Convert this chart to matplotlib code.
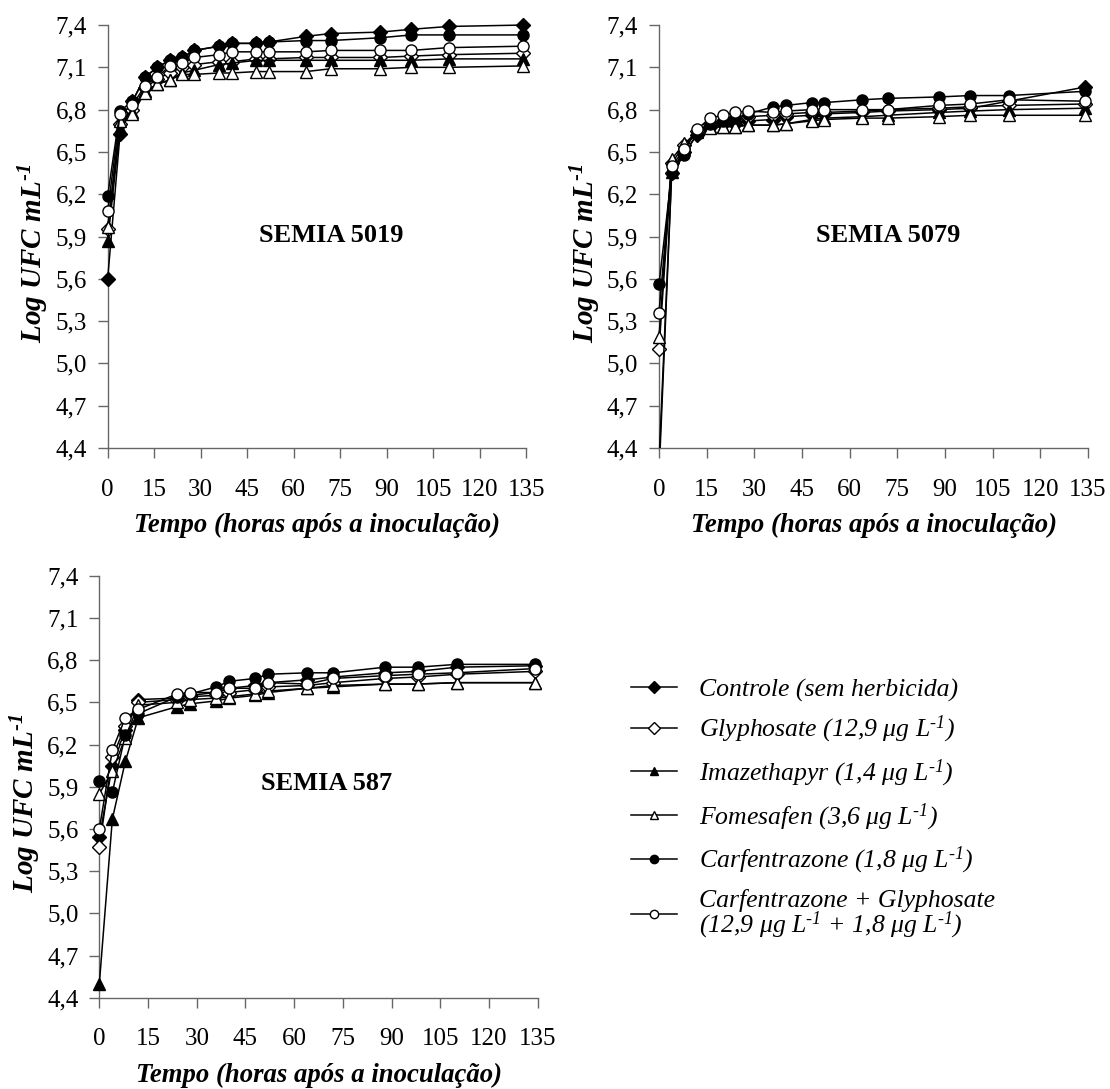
import matplotlib
matplotlib.use('Agg')
import matplotlib.pyplot as plt
from matplotlib.patches import Rectangle
from matplotlib.ticker import FixedLocator, FuncFormatter

plt.rcParams['font.family'] = 'Liberation Serif'
plt.rcParams['mathtext.fontset'] = 'custom'
plt.rcParams['mathtext.rm'] = 'Liberation Serif:italic'
plt.rcParams['mathtext.it'] = 'Liberation Serif:italic'
plt.rcParams['mathtext.bf'] = 'Liberation Serif:italic:bold'

# sampling times (hours after inoculation)
t_5019 = [0, 4, 8, 12, 16, 20, 24, 28, 36, 40, 48, 52, 64, 72, 88, 98, 110, 134]
t_5079 = [0, 4, 8, 12, 16, 20, 24, 28, 36, 40, 48, 52, 64, 72, 88, 98, 110, 134]
t_587 = [0, 4, 8, 12, 24, 28, 36, 40, 48, 52, 64, 72, 88, 98, 110, 134]

SUP = '$^{\\text{-}\\mathit{1}}$'
labels = [
    'Controle (sem herbicida)',
    'Glyphosate (12,9 μg L' + SUP + ')',
    'Imazethapyr (1,4 μg L' + SUP + ')',
    'Fomesafen (3,6 μg L' + SUP + ')',
    'Carfentrazone (1,8 μg L' + SUP + ')',
    'Carfentrazone + Glyphosate\n(12,9 μg L' + SUP + ' + 1,8 μg L' + SUP + ')',
]

# SEMIA 5019 (log UFC/mL)
controle_5019 = [5.60, 6.63, 6.86, 7.03, 7.10, 7.15, 7.17, 7.22, 7.25, 7.27, 7.27, 7.28, 7.32, 7.34, 7.35, 7.37, 7.39, 7.40]
glypho_5019 = [5.95, 6.70, 6.80, 6.95, 7.02, 7.06, 7.10, 7.12, 7.14, 7.14, 7.16, 7.16, 7.17, 7.17, 7.17, 7.18, 7.19, 7.20]
imaze_5019 = [5.87, 6.67, 6.78, 6.93, 6.98, 7.01, 7.06, 7.08, 7.12, 7.13, 7.15, 7.15, 7.15, 7.15, 7.15, 7.15, 7.16, 7.16]
fome_5019 = [5.97, 6.72, 6.77, 6.92, 6.98, 7.01, 7.05, 7.05, 7.06, 7.06, 7.07, 7.07, 7.07, 7.09, 7.09, 7.10, 7.10, 7.11]
carf_5019 = [6.19, 6.79, 6.86, 7.03, 7.10, 7.15, 7.17, 7.22, 7.25, 7.27, 7.27, 7.28, 7.29, 7.29, 7.31, 7.33, 7.33, 7.33]
carfgly_5019 = [6.08, 6.77, 6.83, 6.97, 7.03, 7.11, 7.13, 7.17, 7.19, 7.21, 7.21, 7.21, 7.21, 7.22, 7.22, 7.22, 7.24, 7.25]

# SEMIA 5079
controle_5079 = [4.20, 6.35, 6.50, 6.62, 6.68, 6.70, 6.70, 6.72, 6.73, 6.75, 6.76, 6.77, 6.78, 6.79, 6.80, 6.81, 6.86, 6.96]
glypho_5079 = [5.10, 6.42, 6.55, 6.65, 6.70, 6.72, 6.74, 6.75, 6.76, 6.77, 6.78, 6.78, 6.79, 6.80, 6.81, 6.82, 6.83, 6.84]
imaze_5079 = [4.30, 6.36, 6.52, 6.65, 6.68, 6.68, 6.68, 6.69, 6.69, 6.70, 6.73, 6.74, 6.75, 6.76, 6.78, 6.79, 6.80, 6.81]
fome_5079 = [5.19, 6.45, 6.56, 6.64, 6.67, 6.68, 6.68, 6.69, 6.69, 6.70, 6.72, 6.73, 6.74, 6.74, 6.75, 6.76, 6.76, 6.76]
carf_5079 = [5.56, 6.35, 6.48, 6.63, 6.70, 6.72, 6.74, 6.77, 6.82, 6.83, 6.85, 6.85, 6.87, 6.88, 6.89, 6.90, 6.90, 6.93]
carfgly_5079 = [5.36, 6.40, 6.52, 6.66, 6.74, 6.76, 6.78, 6.79, 6.78, 6.79, 6.80, 6.80, 6.80, 6.80, 6.83, 6.84, 6.87, 6.86]

# SEMIA 587
controle_587 = [5.54, 6.05, 6.30, 6.52, 6.53, 6.55, 6.57, 6.60, 6.62, 6.64, 6.66, 6.68, 6.71, 6.72, 6.75, 6.76]
glypho_587 = [5.47, 6.11, 6.33, 6.50, 6.52, 6.54, 6.55, 6.57, 6.59, 6.61, 6.62, 6.64, 6.67, 6.68, 6.70, 6.72]
imaze_587 = [4.50, 5.67, 6.08, 6.39, 6.47, 6.49, 6.51, 6.53, 6.55, 6.57, 6.60, 6.61, 6.63, 6.63, 6.64, 6.64]
fome_587 = [5.85, 6.01, 6.25, 6.48, 6.50, 6.52, 6.53, 6.54, 6.56, 6.58, 6.60, 6.62, 6.63, 6.63, 6.64, 6.64]
carf_587 = [5.94, 5.86, 6.27, 6.42, 6.54, 6.56, 6.61, 6.65, 6.67, 6.70, 6.71, 6.71, 6.75, 6.75, 6.77, 6.77]
carfgly_587 = [5.60, 6.16, 6.39, 6.45, 6.56, 6.57, 6.57, 6.60, 6.60, 6.64, 6.63, 6.67, 6.69, 6.70, 6.71, 6.74]

markers = [('D', 'black'), ('D', 'white'), ('^', 'black'), ('^', 'white'), ('o', 'black'), ('o', 'white')]
sizes = [7, 7, 8, 8, 8, 8]
AXIS_GREY = '#666666'


def comma(v, pos):
    return f'{v:.1f}'.replace('.', ',')


def plot_panel(ax, t, series, name, name_xy):
    clip = Rectangle((-0.1, 0), 1.2, 1.2, transform=ax.transAxes)
    handles = []
    for vals, (m, fc), ms, lab in zip(series, markers, sizes, labels):
        h, = ax.plot(t, vals, color='black', lw=1.1, marker=m, mfc=fc, mec='black',
                     mew=1.0, ms=ms, zorder=3, label=lab)
        h.set_clip_path(clip)
        handles.append(h)
    ax.set_xlim(0, 135)
    ax.set_ylim(4.4, 7.4)
    ax.xaxis.set_major_locator(FixedLocator(list(range(0, 136, 15))))
    ax.yaxis.set_major_locator(FixedLocator([4.4 + 0.3 * i for i in range(11)]))
    ax.yaxis.set_major_formatter(FuncFormatter(comma))
    for s in ['top', 'right']:
        ax.spines[s].set_visible(False)
    for s in ['left', 'bottom']:
        ax.spines[s].set_color(AXIS_GREY)
        ax.spines[s].set_linewidth(1.0)
    ax.tick_params(axis='both', direction='out', length=7, width=1.0, color=AXIS_GREY,
                   labelsize=18)
    ax.tick_params(axis='x', pad=15)
    ax.tick_params(axis='y', pad=8)
    ax.set_xlabel('Tempo (horas após a inoculação)', fontsize=19.3, fontweight='bold',
                  fontstyle='italic', labelpad=9)
    ax.set_ylabel('Log UFC mL$^{\\text{-}\\mathbf{1}}$', fontsize=21, fontweight='bold',
                  fontstyle='italic', labelpad=3)
    ax.yaxis.label.set_y(0.46)
    ax.text(name_xy[0], name_xy[1], name, ha='center', va='center', fontsize=19,
            fontweight='bold')
    return handles


fig = plt.figure(figsize=(11.1, 10.89), dpi=100)
ax1 = fig.add_axes([0.0970, 0.5886, 0.3770, 0.3884])
ax2 = fig.add_axes([0.5937, 0.5886, 0.3865, 0.3884])
ax3 = fig.add_axes([0.0895, 0.0838, 0.3950, 0.3875])

plot_panel(ax1, t_5019, [controle_5019, glypho_5019, imaze_5019, fome_5019, carf_5019, carfgly_5019],
           'SEMIA 5019', (72, 5.91))
plot_panel(ax2, t_5079, [controle_5079, glypho_5079, imaze_5079, fome_5079, carf_5079, carfgly_5079],
           'SEMIA 5079', (72, 5.91))
handles = plot_panel(ax3, t_587, [controle_587, glypho_587, imaze_587, fome_587, carf_587, carfgly_587],
                     'SEMIA 587', (70, 5.92))

leg = fig.legend(handles=handles, loc='upper left', bbox_to_anchor=(0.557, 0.389),
                 frameon=False, borderpad=0, handlelength=1.78, handletextpad=0.86,
                 labelspacing=0.48, prop={'family': 'Liberation Serif', 'style': 'italic', 'size': 18.5})
for h in leg.legend_handles:
    h.set_markersize(6)
for txt in leg.get_texts():
    txt.set_linespacing(0.9)

fig.savefig('out.png', dpi=100)
